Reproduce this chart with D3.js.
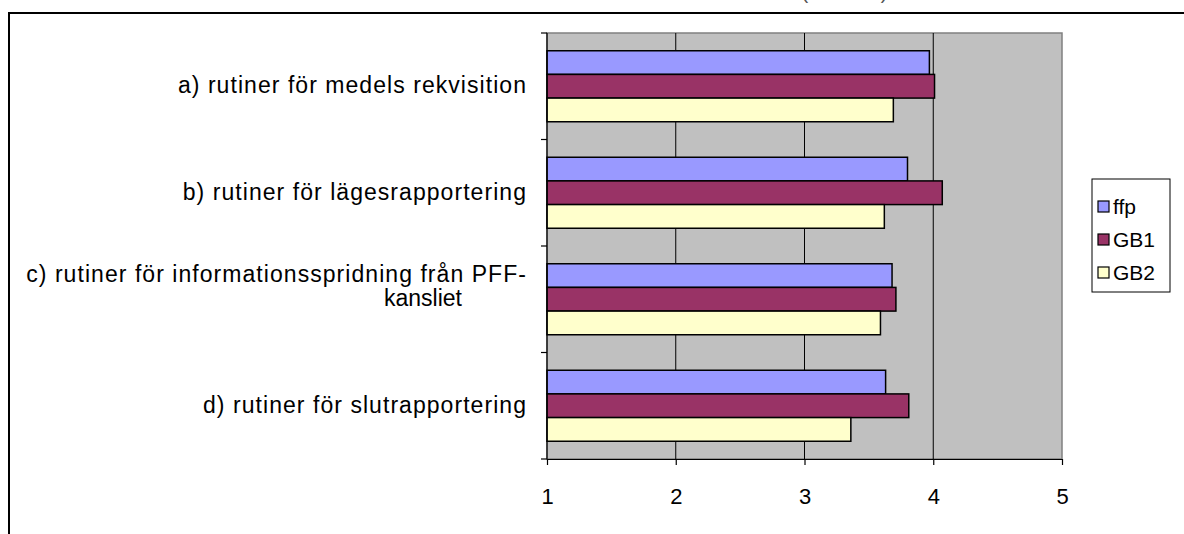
<!DOCTYPE html>
<html>
<head>
<meta charset="utf-8">
<script src="https://cdn.jsdelivr.net/npm/d3@7"></script>
<style>
  html, body { margin: 0; padding: 0; background: #fff; }
  svg { display: block; font-family: "Liberation Sans", Arial, sans-serif; }
</style>
</head>
<body>
<svg id="chart" width="1184" height="534"></svg>
<script>
// Category labels (a line break marks a wrapped label)
const categories = [
  "a) rutiner för medels rekvisition",
  "b) rutiner för lägesrapportering",
  "c) rutiner för informationsspridning från PFF-\nkansliet",
  "d) rutiner för slutrapportering"
];
const seriesNames = ["ffp", "GB1", "GB2"];
const seriesColors = ["#9999FF", "#993366", "#FFFFCC"];
// Mean scores per category
const ffpValues = [3.97, 3.80, 3.68, 3.63];
const gb1Values = [4.01, 4.07, 3.71, 3.81];
const gb2Values = [3.69, 3.62, 3.59, 3.36];
const xTicks = [1, 2, 3, 4, 5];

const seriesValues = [ffpValues, gb1Values, gb2Values];

const svg = d3.select("#chart");
const plot = { left: 547, right: 1062, top: 33, bottom: 459 };

// Outer chart frame
svg.append("rect")
  .attr("x", 9).attr("y", 13).attr("width", 1300).attr("height", 700)
  .attr("fill", "#fff").attr("stroke", "#000").attr("stroke-width", 2);

// Title (runs above the frame)
svg.append("text")
  .attr("x", 846).attr("y", -1)
  .attr("text-anchor", "middle")
  .attr("font-size", 20).attr("fill", "#555")
  .attr("letter-spacing", 3)
  .text("(medel)");

const x = d3.scaleLinear().domain([1, 5]).range([plot.left, plot.right]);
const y = d3.scaleBand().domain(categories)
  .range([plot.top, plot.bottom])
  .paddingInner(1 / 3).paddingOuter(1 / 6);
const ySub = d3.scaleBand().domain(seriesNames).range([0, y.bandwidth()]);

// Plot background
svg.append("rect")
  .attr("x", plot.left).attr("y", plot.top)
  .attr("width", plot.right - plot.left).attr("height", plot.bottom - plot.top)
  .attr("fill", "#C0C0C0").attr("stroke", "#808080").attr("stroke-width", 1.5);

// Vertical gridlines
svg.append("g").selectAll("line")
  .data(xTicks.filter(t => t > 1 && t < 5))
  .join("line")
  .attr("x1", d => x(d)).attr("x2", d => x(d))
  .attr("y1", plot.top).attr("y2", plot.bottom)
  .attr("stroke", "#000").attr("stroke-width", 1);

// Bars
const groups = svg.append("g").selectAll("g")
  .data(categories)
  .join("g")
  .attr("transform", d => `translate(0,${y(d)})`);

groups.selectAll("rect")
  .data((c, i) => seriesNames.map((s, j) => ({ s, j, v: seriesValues[j][i] })))
  .join("rect")
  .attr("x", x(1))
  .attr("y", d => ySub(d.s))
  .attr("width", d => x(d.v) - x(1))
  .attr("height", ySub.bandwidth())
  .attr("fill", d => seriesColors[d.j])
  .attr("stroke", "#000").attr("stroke-width", 1.5);

// Left axis with ticks at category boundaries
const step = y.step();
const bounds = d3.range(categories.length + 1).map(i => plot.top + i * step);
const leftAxis = svg.append("g");
leftAxis.append("line")
  .attr("x1", plot.left).attr("x2", plot.left)
  .attr("y1", plot.top).attr("y2", plot.bottom)
  .attr("stroke", "#000").attr("stroke-width", 1.2);
leftAxis.selectAll("line.tick")
  .data(bounds)
  .join("line").attr("class", "tick")
  .attr("x1", plot.left - 6).attr("x2", plot.left)
  .attr("y1", d => d).attr("y2", d => d)
  .attr("stroke", "#000").attr("stroke-width", 1.2);

// Category labels
const labelX = 527;
const labelFont = 23;
const labelSpacing = 1.05;
categories.forEach(c => {
  const lines = c.split("\n");
  const cy = y(c) + y.bandwidth() / 2;
  if (lines.length === 1) {
    svg.append("text")
      .attr("x", labelX).attr("y", cy + 7)
      .attr("text-anchor", "end").attr("font-size", labelFont)
      .attr("letter-spacing", labelSpacing)
      .text(lines[0]);
  } else {
    svg.append("text")
      .attr("x", labelX).attr("y", cy - 17)
      .attr("text-anchor", "end").attr("font-size", labelFont)
      .attr("letter-spacing", labelSpacing)
      .text(lines[0]);
    svg.append("text")
      .attr("x", 423).attr("y", cy + 7)
      .attr("text-anchor", "middle").attr("font-size", labelFont)
      .text(lines[1]);
  }
});

// Bottom axis
const xAxis = d3.axisBottom(x).tickValues(xTicks).tickFormat(d3.format("d"))
  .tickSize(6).tickSizeOuter(0).tickPadding(23);
const gx = svg.append("g")
  .attr("transform", `translate(0,${plot.bottom})`)
  .call(xAxis);
gx.select(".domain").attr("stroke", "#000").attr("stroke-width", 1.2);
gx.selectAll(".tick line").attr("stroke", "#000").attr("stroke-width", 1.2);
gx.selectAll(".tick text").attr("font-size", 22).attr("fill", "#000")
  .attr("font-family", "Liberation Sans, Arial, sans-serif");

// Legend
const legend = svg.append("g").attr("transform", "translate(1092,179)");
legend.append("rect")
  .attr("width", 78).attr("height", 113)
  .attr("fill", "#fff").attr("stroke", "#000").attr("stroke-width", 1);
seriesNames.forEach((s, j) => {
  const ly = 28 + j * 33;
  legend.append("rect")
    .attr("x", 6).attr("y", ly - 6).attr("width", 11).attr("height", 11)
    .attr("fill", seriesColors[j]).attr("stroke", "#000").attr("stroke-width", 1.2);
  legend.append("text")
    .attr("x", 21).attr("y", ly + 7)
    .attr("font-size", 21).text(s);
});
</script>
</body>
</html>
